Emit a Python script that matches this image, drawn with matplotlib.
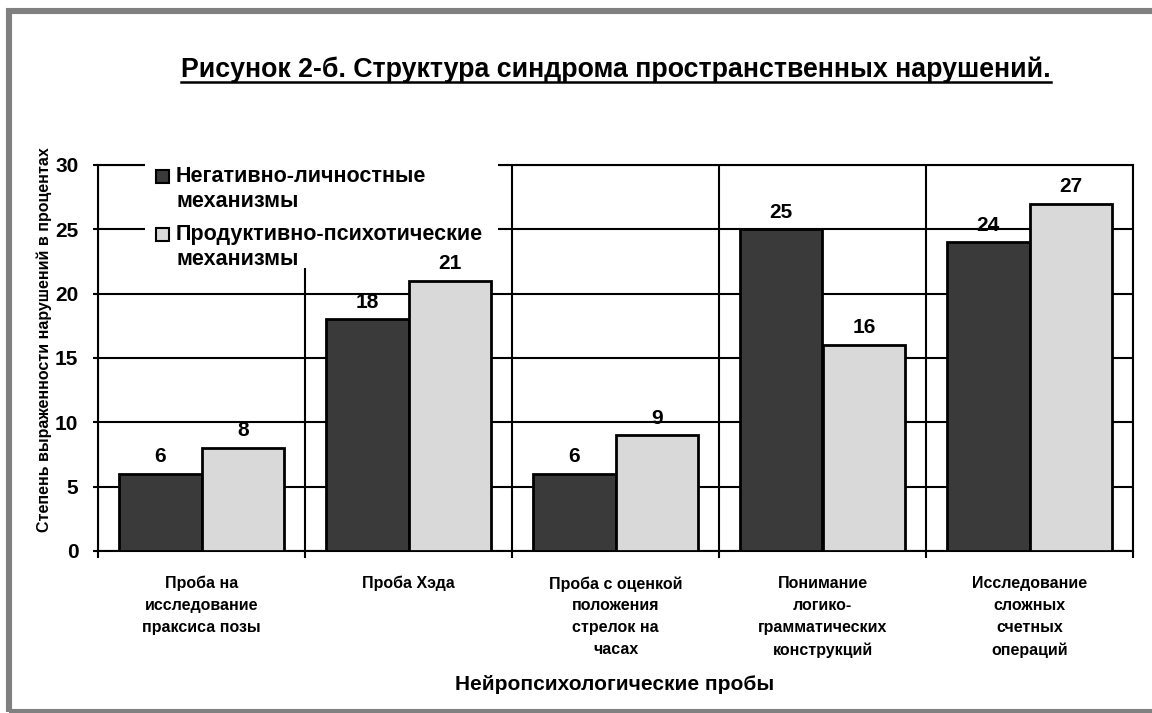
import matplotlib
matplotlib.use("Agg")
import matplotlib.pyplot as plt
import numpy as np
from matplotlib.patches import Rectangle

plt.rcParams['font.family'] = ['Liberation Sans', 'DejaVu Sans']
plt.rcParams['font.weight'] = 'bold'

categories = [
    "Проба на\nисследование\nпраксиса позы",
    "Проба Хэда",
    "Проба с оценкой\nположения\nстрелок на\nчасах",
    "Понимание\nлогико-\nграмматических\nконструкций",
    "Исследование\nсложных\nсчетных\nопераций",
]
series_names = ["Негативно-личностные\nмеханизмы", "Продуктивно-психотические\nмеханизмы"]
negative = [6, 18, 6, 25, 24]
productive = [8, 21, 9, 16, 27]
y_ticks = [0, 5, 10, 15, 20, 25, 30]

dark = "#3a3a3a"
light = "#d9d9d9"
colors = [dark, light]

W, H = 1152, 713
fig = plt.figure(figsize=(W / 100, H / 100), dpi=100)

# grey outer frame (runs off the right and bottom edges)
fig.patches.append(Rectangle((9 / W, (H - 712) / H), 1.2, (712 - 11) / H,
                             transform=fig.transFigure, fill=False,
                             edgecolor="#808080", linewidth=4.4))

AX_L, AX_R, AX_T, AX_B = 98, 1133, 165, 551
ax = fig.add_axes([AX_L / W, (H - AX_B) / H, (AX_R - AX_L) / W, (AX_B - AX_T) / H])


def to_axes(px, py):
    """pixel position (from top-left of the figure) -> axes fraction"""
    return (px - AX_L) / (AX_R - AX_L), (AX_B - py) / (AX_B - AX_T)


n = len(categories)
x = np.arange(n)
bw = 0.4
bars = []
for i, (vals, off) in enumerate(((negative, -bw / 2), (productive, bw / 2))):
    b = ax.bar(x + off, vals, bw, color=colors[i], edgecolor="black",
               linewidth=2, zorder=3)
    bars.append((b, vals))

for b, vals in bars:
    for r, v in zip(b, vals):
        ax.annotate(str(v), (r.get_x() + r.get_width() / 2, v), xytext=(0, 5.5),
                    textcoords="offset points", ha="center", va="bottom",
                    fontsize=15, fontweight="bold", zorder=8)

ax.set_xlim(-0.5, n - 0.5)
ax.set_ylim(0, 30)
ax.set_yticks(y_ticks)
ax.set_yticklabels([str(t) for t in y_ticks], fontsize=15, fontweight="bold")
ax.tick_params(axis="y", length=3.6, width=1.5, pad=10.5)

# category boundaries carry ticks and vertical gridlines
ax.set_xticks(np.arange(-0.5, n, 1.0))
ax.set_xticklabels([])
ax.set_xticks(x, minor=True)
ax.set_xticklabels(categories, minor=True, fontsize=11.5, fontweight="bold",
                   linespacing=1.58, va="top")
ax.tick_params(axis="x", which="major", length=5, width=1.5)
ax.tick_params(axis="x", which="minor", length=0, pad=18)

ax.grid(True, which="major", color="black", linewidth=1.5, zorder=1)
ax.set_axisbelow(True)
for s in ax.spines.values():
    s.set_linewidth(1.5)

ax.set_ylabel("Степень выраженности нарушений в процентах", fontsize=11.5,
              fontweight="bold", va="center")
ax.yaxis.set_label_coords(*to_axes(44, 340))
ax.set_xlabel("Нейропсихологические пробы", fontsize=15, fontweight="bold",
              va="center")
ax.xaxis.set_label_coords(*to_axes(615, 684))

# legend on a white panel that hides the gridlines behind it
x0, y0 = to_axes(145, 268)
x1, y1 = to_axes(498, 157)
ax.add_patch(Rectangle((x0, y0), x1 - x0, y1 - y0, transform=ax.transAxes,
                       facecolor="white", edgecolor="none", zorder=5,
                       clip_on=False))
entry_y = [177, 235]
line_step = 25
for name, col, ly in zip(series_names, colors, entry_y):
    sx, sy = to_axes(156, ly + 6.5)
    sx2, sy2 = to_axes(169, ly - 6.5)
    ax.add_patch(Rectangle((sx, sy), sx2 - sx, sy2 - sy, transform=ax.transAxes,
                           facecolor=col, edgecolor="black", linewidth=1.5,
                           zorder=6, clip_on=False))
    for k, line in enumerate(name.split("\n")):
        tx, ty = to_axes(176, ly + k * line_step)
        ax.text(tx, ty, line, transform=ax.transAxes, ha="left", va="center",
                fontsize=15.5, fontweight="bold", zorder=6)

title = fig.text(616 / W, 1 - 70 / H,
                 "Рисунок 2-б. Структура синдрома пространственных нарушений.",
                 ha="center", va="center", fontsize=19.3, fontweight="bold")
# underline for the title
fig.canvas.draw()
bb = title.get_window_extent(fig.canvas.get_renderer())
fig.add_artist(plt.Line2D([bb.x0 / W, bb.x1 / W], [(bb.y0 + 1) / H, (bb.y0 + 1) / H],
                          transform=fig.transFigure, color="black", linewidth=1.8))

fig.savefig("out.png", dpi=100)
